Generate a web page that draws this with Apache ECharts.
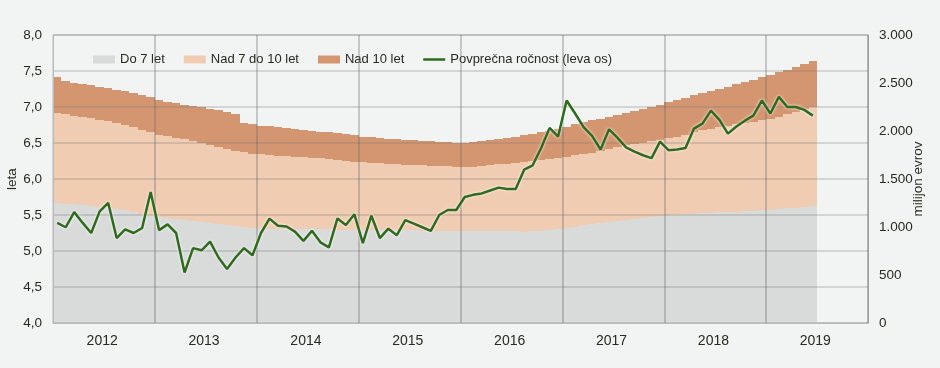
<!DOCTYPE html>
<html>
<head>
<meta charset="utf-8">
<script src="https://cdn.jsdelivr.net/npm/echarts@6/dist/echarts.min.js"></script>
<style>
html,body{margin:0;padding:0;background:#f2f4f4;}
#c{width:940px;height:368px;}
</style>
</head>
<body>
<div id="c"></div>
<script>
// Months Jan 2012 .. Dec 2019 (data through Jun 2019)
var years = ['2012','2013','2014','2015','2016','2017','2018','2019'];
var seriesNames = ['Do 7 let','Nad 7 do 10 let','Nad 10 let','Povprečna ročnost (leva os)'];

// Upper boundary of "Do 7 let" (milijon evrov)
var do7Top = [1248,1242,1236,1228,1220,1210,1198,1185,1172,1158,1140,1120,
 1100,1090,1080,1072,1062,1052,1042,1032,1020,1010,1000,992,
 986,984,982,980,978,977,976,975,974,972,971,970,
 969,968,968,967,966,965,964,963,962,961,960,959,
 958,957,957,958,959,958,956,952,955,962,970,980,
 993,1005,1018,1030,1042,1055,1066,1078,1088,1098,1105,1112,
 1122,1128,1134,1140,1146,1150,1153,1157,1161,1165,1169,1173,
 1177,1185,1193,1200,1210,1219];

// Upper boundary of "Nad 7 do 10 let" (cumulative, milijon evrov)
var do10Top = [2191,2172,2160,2148,2136,2118,2100,2082,2062,2040,2010,1985,
 1958,1945,1930,1912,1895,1875,1855,1835,1815,1795,1778,1765,
 1757,1750,1742,1736,1730,1724,1720,1716,1708,1698,1688,1680,
 1674,1668,1662,1657,1652,1648,1645,1641,1637,1634,1631,1629,
 1628,1630,1636,1644,1652,1660,1668,1676,1686,1698,1708,1718,
 1730,1745,1760,1775,1790,1810,1830,1850,1865,1880,1895,1910,
 1924,1940,1960,1985,2010,2025,2040,2055,2070,2085,2098,2110,
 2122,2150,2175,2200,2225,2247];

// Upper boundary of "Nad 10 let" (total, milijon evrov)
var totalTop = [2559,2518,2505,2490,2478,2462,2445,2430,2415,2398,2380,2352,
 2323,2305,2290,2270,2258,2245,2232,2218,2200,2180,2082,2070,
 2052,2048,2040,2032,2022,2012,2003,1993,1985,1975,1965,1955,
 1941,1935,1928,1920,1914,1908,1902,1897,1892,1888,1884,1880,
 1878,1885,1895,1905,1915,1928,1940,1955,1968,1985,2000,2020,
 2045,2068,2090,2110,2130,2150,2170,2190,2210,2230,2250,2275,
 2305,2325,2348,2372,2395,2420,2440,2462,2485,2510,2535,2560,
 2583,2610,2640,2670,2700,2732];

// Povprečna ročnost (leta)
var avgMaturity = [5.39,5.33,5.54,5.39,5.25,5.55,5.67,5.18,5.30,5.25,5.32,5.82,
 5.29,5.37,5.25,4.70,5.04,5.01,5.13,4.91,4.75,4.91,5.04,4.94,
 5.25,5.45,5.35,5.34,5.27,5.14,5.28,5.12,5.05,5.45,5.36,5.51,
 5.11,5.49,5.18,5.31,5.22,5.43,5.38,5.33,5.28,5.50,5.57,5.57,
 5.75,5.78,5.80,5.84,5.88,5.86,5.86,6.13,6.19,6.43,6.71,6.59,
 7.09,6.91,6.72,6.60,6.41,6.69,6.57,6.44,6.38,6.33,6.29,6.52,
 6.40,6.41,6.43,6.70,6.77,6.95,6.82,6.63,6.73,6.81,6.88,7.09,
 6.91,7.14,7.00,7.00,6.96,6.88];

var categories = [];
years.forEach(function(y){ for (var m=1;m<=12;m++){ categories.push(y+'-'+(m<10?'0'+m:m)); } });

var txt = '#252d1e';
var font = 'Liberation Sans, Arial, sans-serif';
var cGray = '#d9dada', cLight = '#f0ccb2', cDark = '#d49670', cGreen = '#2f6a1e';
var lineIcon = 'path://M0,0 L0.05,0 L0.05,0.05 L0,0.05 Z M0,3 L24,3 L24,5.6 L0,5.6 Z M0,8.55 L0.05,8.55 L0.05,8.6 L0,8.6 Z';

// stacked band drawn through the axes' own scales (pixel-snapped to avoid seams)
function band(name, lo, hi, color) {
  return {
    name: name, type: 'custom', xAxisIndex: 0, yAxisIndex: 1, z: 2,
    itemStyle: {color: color},
    encode: {x: 0, y: [1, 2]},
    data: hi.map(function(v, i){ return [i, lo ? lo[i] : 0, v]; }),
    renderItem: function(params, api) {
      var i = api.value(0);
      var pLo = api.coord([i, api.value(1)]);
      var pHi = api.coord([i, api.value(2)]);
      var w = api.size([1, 0])[0];
      var x0 = Math.round(pLo[0] - w / 2), x1 = Math.round(pLo[0] + w / 2);
      var y0 = Math.round(pHi[1]), y1 = Math.round(pLo[1]);
      return {type: 'rect', shape: {x: x0, y: y0, width: x1 - x0, height: y1 - y0},
        style: {fill: color}};
    }
  };
}

var chart = echarts.init(document.getElementById('c'), null, {renderer:'canvas'});
chart.setOption({
  backgroundColor: '#f2f4f4',
  animation: false,
  textStyle: {fontFamily: font, color: txt},
  grid: {left: 53, right: 72, top: 35, bottom: 45, containLabel: false, outerBoundsMode: 'none',
    show: true, borderColor: '#b9bbbb', borderWidth: 1, backgroundColor: 'transparent'},
  legend: {
    left: 88, top: 48, itemWidth: 22, itemHeight: 8, itemGap: 19,
    textStyle: {fontSize: 13, color: txt, fontFamily: font},
    data: [
      {name: seriesNames[0], icon: 'rect', itemStyle: {color: cGray}},
      {name: seriesNames[1], icon: 'rect', itemStyle: {color: cLight}},
      {name: seriesNames[2], icon: 'rect', itemStyle: {color: cDark}},
      {name: seriesNames[3], icon: lineIcon, itemStyle: {color: cGreen, borderWidth: 0}}
    ]
  },
  xAxis: {
    type: 'category', data: categories, boundaryGap: true, z: 5,
    axisLine: {show: true, lineStyle: {color: '#b9bbbb', width: 1}},
    axisTick: {show: false},
    axisLabel: {
      interval: function(i){ return i % 12 === 5; },
      formatter: function(v){ return v.slice(0,4); },
      fontSize: 14, color: txt, margin: 11, padding: [0,0,0,5], fontFamily: font
    },
    splitLine: {show: true, interval: function(i){ return i % 12 === 0 && i > 0; },
      lineStyle: {color: 'rgba(100,100,100,0.42)', width: 1.5}}
  },
  yAxis: [
    {
      type: 'value', min: 4, max: 8, interval: 0.5, position: 'left', z: 5,
      name: 'leta', nameLocation: 'middle', nameGap: 34, nameMoveOverlap: false,
      nameTextStyle: {fontSize: 13.5, color: txt, fontFamily: font},
      axisLine: {show: true, lineStyle: {color: '#b9bbbb'}},
      axisTick: {show: false},
      axisLabel: {fontSize: 13.5, color: txt, margin: 11, fontFamily: font,
        formatter: function(v){ return v.toFixed(1).replace('.', ','); }},
      splitLine: {show: true, lineStyle: {color: 'rgba(120,120,120,0.25)', width: 2}}
    },
    {
      type: 'value', min: 0, max: 3000, interval: 500, position: 'right',
      name: 'milijon evrov', nameLocation: 'middle', nameGap: 43, nameMoveOverlap: false,
      nameTextStyle: {fontSize: 13.5, color: txt, fontFamily: font},
      axisLine: {show: true, lineStyle: {color: '#b9bbbb'}},
      axisTick: {show: false},
      axisLabel: {fontSize: 13.5, color: txt, margin: 11, fontFamily: font,
        formatter: function(v){ return String(v).replace(/\B(?=(\d{3})+(?!\d))/g, '.'); }},
      splitLine: {show: false}
    }
  ],
  series: [
    band(seriesNames[0], null, do7Top, cGray),
    band(seriesNames[1], do7Top, do10Top, cLight),
    band(seriesNames[2], do10Top, totalTop, cDark),
    {name: seriesNames[3], type: 'line', yAxisIndex: 0, data: avgMaturity,
      symbol: 'none', z: 10,
      itemStyle: {color: cGreen},
      lineStyle: {color: cGreen, width: 2.5, shadowColor: 'rgba(255,255,255,0.95)', shadowBlur: 3}}
  ]
});
</script>
</body>
</html>
